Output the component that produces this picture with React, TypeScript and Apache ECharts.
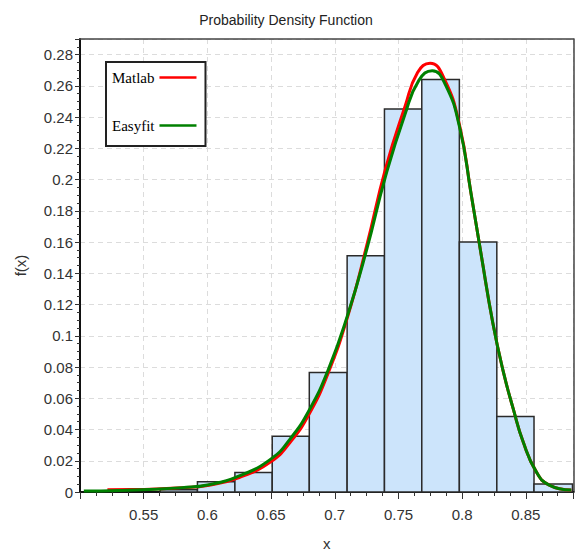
import React, { useEffect, useRef } from "react";
import * as echarts from "echarts";

const titleText = "Probability Density Function";
const xName = "x";
const yName = "f(x)";
const seriesNames = ["Matlab", "Easyfit"];

// histogram bins: [start, end]
const binStarts = [0.5629, 0.5922, 0.6216, 0.6509, 0.6800, 0.7097, 0.7390, 0.7683, 0.7978, 0.8272, 0.8564];
const binEnds = [0.5922, 0.6216, 0.6509, 0.6800, 0.7097, 0.7390, 0.7683, 0.7978, 0.8272, 0.8564, 0.8866];
const binHeights = [0.0015, 0.0065, 0.0125, 0.0357, 0.0765, 0.1512, 0.2452, 0.2640, 0.1600, 0.0483, 0.0051];

// Easyfit (green) curve
const easyX = [0.503, 0.53, 0.56, 0.58, 0.60, 0.625, 0.65, 0.665, 0.68, 0.695, 0.71, 0.725, 0.74, 0.755, 0.766, 0.7765, 0.787, 0.798, 0.807, 0.815, 0.824, 0.832, 0.84, 0.848, 0.858, 0.868, 0.8857];
const easyY = [0.0006, 0.001, 0.0018, 0.0028, 0.0045, 0.0103, 0.0212, 0.034, 0.0525, 0.0785, 0.113, 0.155, 0.2025, 0.2415, 0.2635, 0.2697, 0.2605, 0.2335, 0.191, 0.1515, 0.1085, 0.078, 0.0535, 0.0318, 0.0132, 0.0046, 0.0013];

// Matlab (red) curve
const matX = [0.5215, 0.54, 0.56, 0.58, 0.60, 0.625, 0.65, 0.665, 0.68, 0.695, 0.71, 0.725, 0.74, 0.755, 0.765, 0.7748, 0.786, 0.798, 0.807, 0.815, 0.824, 0.832, 0.84, 0.848, 0.858, 0.868, 0.8857];
const matY = [0.0015, 0.0016, 0.002, 0.0028, 0.0042, 0.0093, 0.0195, 0.0318, 0.05, 0.0765, 0.112, 0.1575, 0.2075, 0.2465, 0.2685, 0.2745, 0.2645, 0.2345, 0.191, 0.1515, 0.1085, 0.078, 0.0535, 0.0318, 0.0132, 0.0046, 0.0013];

const narrow = "'Liberation Sans', Arial, sans-serif";

export default function App() {
  const ref = useRef<HTMLDivElement>(null);
  useEffect(() => {
    document.body.style.margin = "0";
    const chart = echarts.init(ref.current!, null, { renderer: "svg" });
    const bars = binStarts.map((s, i) => [s, binEnds[i], binHeights[i]]);
    const easy = easyX.map((x, i) => [x, easyY[i]]);
    const mat = matX.map((x, i) => [x, matY[i]]);
    const frameAxisX = {
      type: "value",
      min: 0.5,
      max: 0.8874,
      position: "top",
      axisLine: { show: true, onZero: false, lineStyle: { color: "#444", width: 1.5 } },
      axisTick: { show: false },
      axisLabel: { show: false },
      splitLine: { show: false },
    };
    const frameAxisY = {
      type: "value",
      min: 0,
      max: 0.29,
      position: "right",
      axisLine: { show: true, onZero: false, lineStyle: { color: "#444", width: 1.5 } },
      axisTick: { show: false },
      axisLabel: { show: false },
      splitLine: { show: false },
    };
    chart.setOption({
      animation: false,
      backgroundColor: "#fff",
      title: {
        text: titleText,
        left: 281,
        top: 8,
        textAlign: "center",
        textStyle: { fontFamily: narrow, fontSize: 14, fontWeight: "normal", color: "#222" },
      },
      grid: {
        left: 80,
        right: 5.5,
        top: 39,
        bottom: 59,
        show: false,
      },
      legend: {
        data: seriesNames,
        orient: "vertical",
        align: "right",
        left: 106,
        top: 62,
        padding: [8, 9, 13, 6],
        itemGap: 33,
        itemWidth: 37,
        itemHeight: 2.5,
        icon: "rect",
        borderColor: "#222",
        borderWidth: 2,
        backgroundColor: "#fff",
        textStyle: { fontFamily: "'Liberation Serif', serif", fontSize: 15, color: "#000" },
      },
      xAxis: [
        {
          type: "value",
          min: 0.5,
          max: 0.8874,
          interval: 0.05,
          name: xName,
          nameLocation: "middle",
          nameGap: 44,
          nameTextStyle: { fontFamily: narrow, fontSize: 15, color: "#333" },
          axisLine: { show: true, onZero: false, lineStyle: { color: "#111", width: 2 } },
          axisTick: { show: true, length: 7, lineStyle: { color: "#333" } },
          minorTick: { show: true, splitNumber: 4, length: 4, lineStyle: { color: "#333" } },
          axisLabel: {
            showMinLabel: false,
            showMaxLabel: false,
            margin: 15,
            fontFamily: narrow,
            fontSize: 15,
            color: "#333",
          },
          splitLine: { show: true, lineStyle: { color: "#dcdcdc", type: [5, 4], width: 1 } },
        },
        frameAxisX,
      ],
      yAxis: [
        {
          type: "value",
          min: 0,
          max: 0.29,
          interval: 0.02,
          name: yName,
          nameLocation: "middle",
          nameGap: 52,
          nameTextStyle: { fontFamily: narrow, fontSize: 15, color: "#333" },
          axisLine: { show: true, onZero: false, lineStyle: { color: "#111", width: 2 } },
          axisTick: { show: true, length: 5, lineStyle: { color: "#333" } },
          minorTick: { show: true, splitNumber: 4, length: 3, lineStyle: { color: "#333" } },
          axisLabel: {
            showMaxLabel: false,
            margin: 7,
            fontFamily: narrow,
            fontSize: 15,
            color: "#333",
          },
          splitLine: { show: true, lineStyle: { color: "#dcdcdc", type: [5, 4], width: 1 } },
        },
        frameAxisY,
      ],
      series: [
        {
          type: "custom",
          name: "hist",
          data: bars,
          encode: { x: [0, 1], y: 2 },
          renderItem: (params: any, api: any) => {
            const p0 = api.coord([api.value(0), api.value(2)]);
            const p1 = api.coord([api.value(1), 0]);
            return {
              type: "rect",
              shape: { x: p0[0], y: p0[1], width: p1[0] - p0[0], height: p1[1] - p0[1] },
              style: { fill: "#cce4fb", stroke: "#2a2a2a", lineWidth: 1.5 },
            };
          },
          z: 1,
        },
        {
          type: "line",
          name: seriesNames[0],
          data: mat,
          showSymbol: false,
          symbol: "none",
          smooth: 0.5,
          color: "#ff0000",
          lineStyle: { color: "#ff0000", width: 3 },
          z: 3,
        },
        {
          type: "line",
          name: seriesNames[1],
          data: easy,
          showSymbol: false,
          symbol: "none",
          smooth: 0.5,
          color: "#008000",
          lineStyle: { color: "#008000", width: 3 },
          z: 4,
        },
      ],
    });
    return () => chart.dispose();
  }, []);
  return <div ref={ref} style={{ width: 579, height: 556 }} />;
}
